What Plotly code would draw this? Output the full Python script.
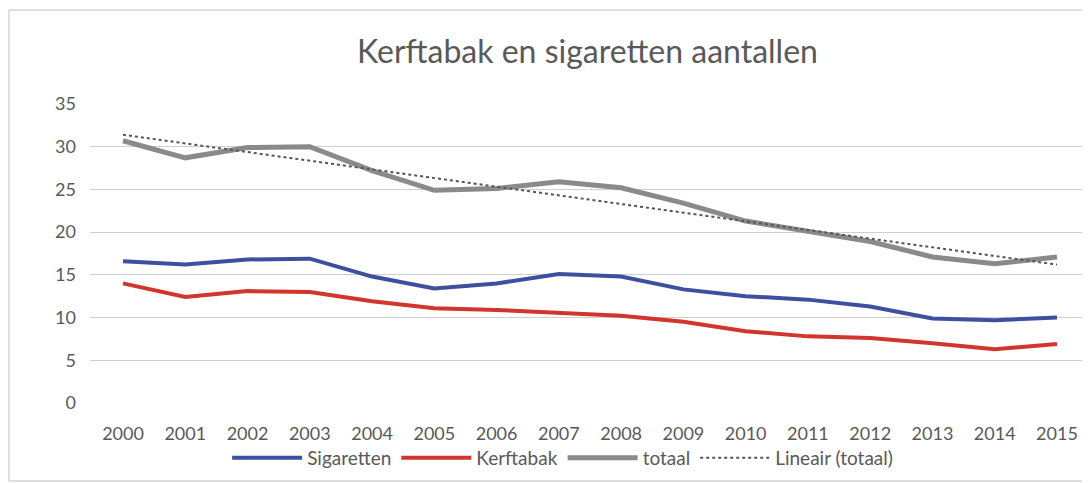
import plotly.graph_objects as go

years = list(range(2000, 2016))
sigaretten = [16.6, 16.2, 16.8, 16.9, 14.8, 13.4, 14.0, 15.1, 14.8, 13.3, 12.5, 12.1, 11.3, 9.9, 9.7, 10.0]
kerftabak = [14.0, 12.4, 13.1, 13.0, 11.9, 11.1, 10.9, 10.6, 10.2, 9.5, 8.4, 7.8, 7.6, 7.0, 6.3, 6.9]
totaal = [30.7, 28.7, 29.9, 30.0, 27.2, 24.9, 25.1, 25.9, 25.2, 23.4, 21.3, 20.1, 18.9, 17.1, 16.3, 17.1]
trend_years = [2000, 2015]
trend_values = [31.4, 16.2]

FONT = "Lato, 'Open Sans', sans-serif"
TEXT = "#595959"

fig = go.Figure()
fig.add_trace(go.Scatter(x=years, y=sigaretten, name="Sigaretten", mode="lines",
                         line=dict(color="#3F4FA0", width=4)))
fig.add_trace(go.Scatter(x=years, y=kerftabak, name="Kerftabak", mode="lines",
                         line=dict(color="#D0362D", width=4)))
fig.add_trace(go.Scatter(x=years, y=totaal, name="totaal", mode="lines",
                         line=dict(color="#8A8A8A", width=5)))
fig.add_trace(go.Scatter(x=trend_years, y=trend_values, name="Lineair (totaal)", mode="lines",
                         line=dict(color="#555555", width=2, dash="dot")))

# page body has an 8px margin, so the figure is sized/offset to compensate
fig.update_layout(
    width=1082, height=475,
    paper_bgcolor="white", plot_bgcolor="white",
    margin=dict(l=82, r=5, t=96, b=80),
    title=dict(text="Kerftabak en sigaretten aantallen", x=0.5, xref="paper",
               y=1 - 44 / 475, yanchor="middle",
               font=dict(family=FONT, size=32, color=TEXT)),
    font=dict(family=FONT, size=18, color=TEXT),
    legend=dict(orientation="h", x=0.475, xanchor="center", y=-(458 - 403) / 299, yanchor="middle",
                bgcolor="rgba(0,0,0,0)", font=dict(size=19, color=TEXT),
                itemwidth=70, traceorder="normal"),
    showlegend=True,
)
fig.update_xaxes(range=[1999.47, 2015.45], tickmode="array", tickvals=years,
                 ticktext=[str(y) for y in years], showgrid=False, zeroline=False,
                 showline=False, ticks="", ticklabelstandoff=18,
                 tickfont=dict(size=18, color=TEXT))
fig.update_yaxes(range=[0, 35], dtick=5, showgrid=True, gridcolor="#CFCFCF", gridwidth=1,
                 zeroline=False, showline=False, ticks="", ticklabelstandoff=13,
                 tickfont=dict(size=18, color=TEXT))
fig.add_shape(type="rect", xref="paper", yref="paper",
              x0=-81 / 995, x1=1.004, y0=-78 / 299, y1=1 + 94 / 299,
              line=dict(color="#BFBFBF", width=1))

fig.write_html("out.html")
